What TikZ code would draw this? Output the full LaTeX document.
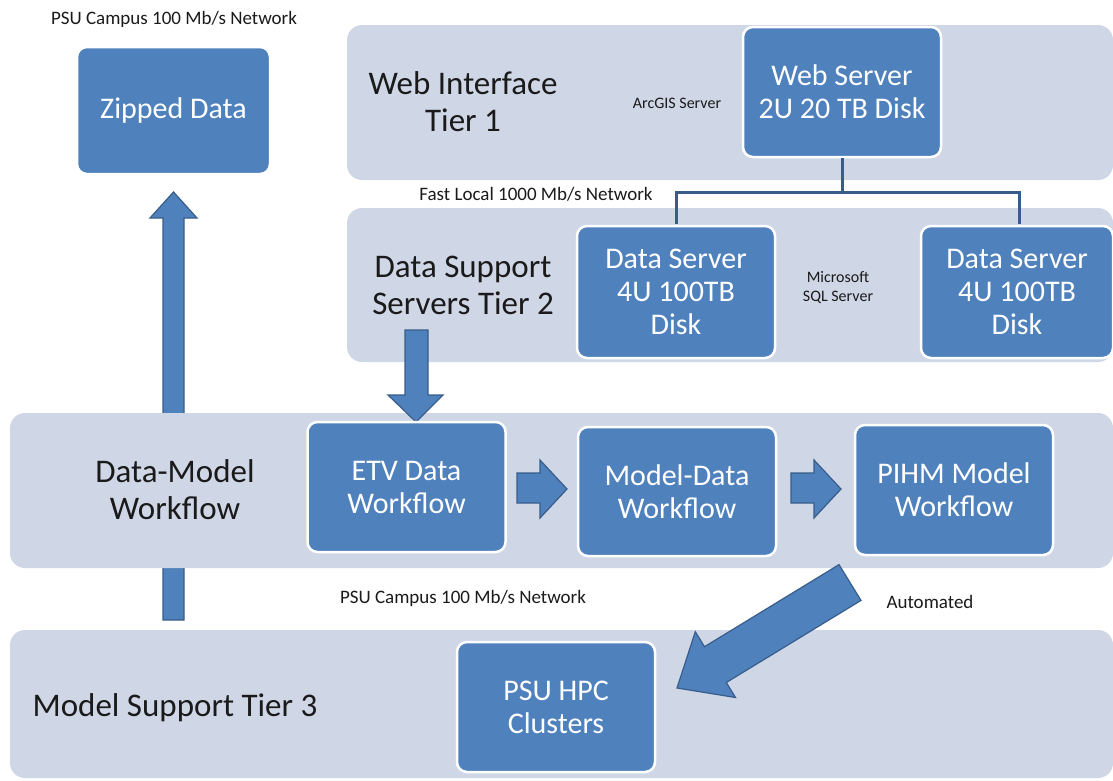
\documentclass[tikz,border=0pt]{standalone}
\usepackage{fontspec}
\setmainfont{Carlito}
\definecolor{boxblue}{HTML}{4F81BD}
\definecolor{bandfill}{HTML}{CFD6E6}
\definecolor{edgeblue}{HTML}{385D8A}
\definecolor{inkdark}{HTML}{1A1A1A}
\tikzset{
  band/.style={fill=bandfill, draw=none, rounded corners=15pt, inner sep=0pt},
  unit/.style={fill=boxblue, draw=white, line width=2.5pt, rounded corners=10pt,
    text=white, align=center, inner sep=0pt, font=\fontsize{30}{33}\selectfont},
  tierlabel/.style={text=inkdark, align=center, font=\fontsize{33}{37}\selectfont},
  netlabel/.style={text=inkdark, align=center, font=\fontsize{19}{22}\selectfont},
  swlabel/.style={text=inkdark, align=center, font=\fontsize{16}{19}\selectfont},
  blockarrow/.style={fill=boxblue, draw=edgeblue, line width=1.2pt, line join=miter},
  link/.style={draw=edgeblue, line width=3pt}
}
\begin{document}
\begin{tikzpicture}[x=1pt, y=-1pt]
\useasboundingbox (0,0) rectangle (1113,780);

% upload path to the zipped archive (runs behind the workflow band)
\draw[blockarrow] (163,620) -- (163,218) -- (150,218) -- (173.5,192) -- (197,218)
  -- (184,218) -- (184,620) -- cycle;

% tier bands
\node[band, minimum width=766pt, minimum height=155pt] (tier1) at (730,102.5) {};
\node[band, minimum width=766pt, minimum height=154pt] (tier2) at (730,285) {};
\node[band, minimum width=1103pt, minimum height=155pt] (flow) at (561.5,490.5) {};
\node[band, minimum width=1103pt, minimum height=148pt] (tier3) at (561.5,704) {};

% band titles
\node[tierlabel] (t1lab) at (463,102) {Web Interface\\Tier 1};
\node[tierlabel] (t2lab) at (463,285) {Data Support\\Servers Tier 2};
\node[tierlabel] (flab) at (175,490) {Data-Model\\Workflow};
\node[tierlabel] (t3lab) at (175,708) {Model Support Tier 3};

% network and software notes
\node[netlabel] (net1) at (174,19) {PSU Campus 100 Mb/s Network};
\node[netlabel] (net2) at (536,194) {Fast Local 1000 Mb/s Network};
\node[netlabel] (net3) at (463,598) {PSU Campus 100 Mb/s Network};
\node[netlabel] (auto) at (930,602) {Automated};
\node[swlabel] (arcgis) at (677,103) {ArcGIS Server};
\node[swlabel] (sql) at (838,288) {Microsoft\\SQL Server};

% block arrows between tiers and workflow stages
\draw[blockarrow] (405,330) -- (405,395) -- (388,395) -- (416,422) -- (443,395)
  -- (428,395) -- (428,330) -- cycle;
\draw[blockarrow] (517,473) -- (540,473) -- (540,460) -- (567,489) -- (540,518)
  -- (540,503) -- (517,503) -- cycle;
\draw[blockarrow] (791,473) -- (814,473) -- (814,460) -- (841,489) -- (814,518)
  -- (814,503) -- (791,503) -- cycle;
\draw[blockarrow] (839,564.6) -- (704.5,646.7) -- (695.3,631.7) -- (677,688)
  -- (735.5,697.5) -- (726.3,682.5) -- (861,600.4) -- cycle;

% servers and workflow units
\node[unit, minimum width=193pt, minimum height=127pt] (zip) at (173.5,110.5) {Zipped Data};
\node[unit, minimum width=198pt, minimum height=130pt] (web) at (842,92) {Web Server\\2U 20 TB Disk};
\node[unit, minimum width=198pt, minimum height=132pt] (ds1) at (676,292) {Data Server\\4U 100TB\\Disk};
\node[unit, minimum width=192pt, minimum height=132pt] (ds2) at (1017,292) {Data Server\\4U 100TB\\Disk};
\node[unit, minimum width=198pt, minimum height=130pt] (etv) at (406.5,487) {ETV Data\\Workflow};
\node[unit, minimum width=198pt, minimum height=129pt] (md) at (677,491.5) {Model-Data\\Workflow};
\node[unit, minimum width=198pt, minimum height=130pt] (pihm) at (954,490) {PIHM Model\\Workflow};
\node[unit, minimum width=198pt, minimum height=130pt] (hpc) at (556,707) {PSU HPC\\Clusters};

% local network links
\coordinate (hub) at ([yshift=-34pt]web.south);
\draw[link] (web.south) -- (hub) -| ([yshift=1pt]ds1.north);
\draw[link] (hub) -| ([xshift=2pt, yshift=1pt]ds2.north);
\end{tikzpicture}
\end{document}
